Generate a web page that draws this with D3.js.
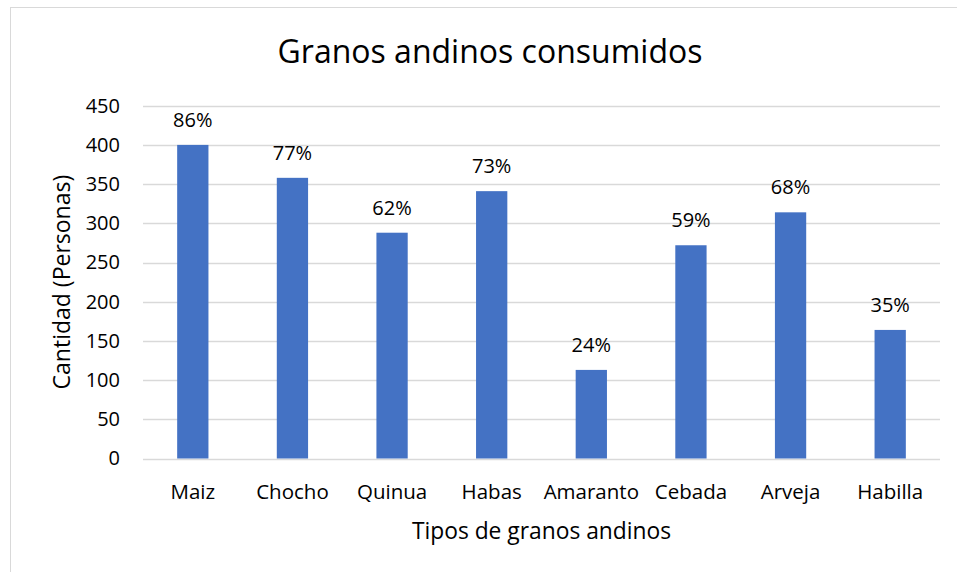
<!DOCTYPE html>
<html>
<head>
<meta charset="utf-8">
<script src="https://cdn.jsdelivr.net/npm/d3@7"></script>
<style>
  html, body { margin: 0; padding: 0; background: #fff; }
  svg { display: block; font-family: "Open Sans", Lato, sans-serif; }
</style>
</head>
<body>
<svg id="chart" width="957" height="572"></svg>
<script>
// Andean grains consumed (number of people) and share of respondents
const categories = ["Maiz", "Chocho", "Quinua", "Habas", "Amaranto", "Cebada", "Arveja", "Habilla"];
const personas = [400, 358, 288, 341, 113, 272, 314, 164];
const porcentajes = ["86%", "77%", "62%", "73%", "24%", "59%", "68%", "35%"];
const yTicks = [0, 50, 100, 150, 200, 250, 300, 350, 400, 450];

const title = "Granos andinos consumidos";
const xTitle = "Tipos de granos andinos";
const yTitle = "Cantidad (Personas)";

const FONT = "'Open Sans', Lato, sans-serif";
const svg = d3.select("#chart");
const W = 957, H = 572;
const plot = { left: 143, right: 940, top: 105.7, bottom: 458.5 };

// chart frame
svg.append("rect")
  .attr("x", 10.5).attr("y", 7.5)
  .attr("width", W).attr("height", H)
  .attr("fill", "#fff").attr("stroke", "#d9d9d9").attr("stroke-width", 1);

const x = d3.scaleBand()
  .domain(categories)
  .range([plot.left, plot.right])
  .paddingInner(0.686)
  .paddingOuter(0.343);

const y = d3.scaleLinear()
  .domain([0, 450])
  .range([plot.bottom, plot.top]);

// horizontal gridlines
svg.append("g")
  .selectAll("line")
  .data(yTicks)
  .join("line")
  .attr("x1", plot.left).attr("x2", plot.right)
  .attr("y1", d => Math.round(y(d)) + 0.5)
  .attr("y2", d => Math.round(y(d)) + 0.5)
  .attr("stroke", "#d9d9d9").attr("stroke-width", 1.5);

// y axis labels
const yAxis = d3.axisLeft(y).tickValues(yTicks).tickSize(0).tickPadding(0);
svg.append("g")
  .attr("transform", `translate(${plot.left - 23},0)`)
  .call(yAxis)
  .call(g => g.select(".domain").remove())
  .call(g => g.selectAll("text")
    .attr("font-size", 20).attr("fill", "#000")
    .attr("font-family", FONT));

// x axis labels
const xAxis = d3.axisBottom(x).tickSize(0).tickPadding(0);
svg.append("g")
  .attr("transform", `translate(0,${plot.bottom + 26})`)
  .call(xAxis)
  .call(g => g.select(".domain").remove())
  .call(g => g.selectAll("text")
    .attr("font-size", 20.5).attr("fill", "#000")
    .attr("font-family", FONT));

const rows = categories.map((c, i) => ({ c, v: personas[i], p: porcentajes[i] }));

// bars
svg.append("g")
  .selectAll("rect")
  .data(rows)
  .join("rect")
  .attr("x", d => x(d.c))
  .attr("width", x.bandwidth())
  .attr("y", d => y(d.v))
  .attr("height", d => y(0) - y(d.v))
  .attr("fill", "#4472c4");

// value labels
svg.append("g")
  .selectAll("text")
  .data(rows)
  .join("text")
  .attr("x", d => x(d.c) + x.bandwidth() / 2)
  .attr("y", d => y(d.v) - 18)
  .attr("text-anchor", "middle")
  .attr("font-size", 20)
  .attr("fill", "#000")
  .text(d => d.p);

// titles
svg.append("text")
  .attr("x", 490).attr("y", 63)
  .attr("text-anchor", "middle")
  .attr("font-size", 32)
  .attr("fill", "#000")
  .text(title);

svg.append("text")
  .attr("x", (plot.left + plot.right) / 2).attr("y", 539)
  .attr("text-anchor", "middle")
  .attr("font-size", 22.8)
  .attr("fill", "#000")
  .text(xTitle);

svg.append("text")
  .attr("transform", `translate(70,${(plot.top + plot.bottom) / 2}) rotate(-90)`)
  .attr("text-anchor", "middle")
  .attr("font-size", 23)
  .attr("fill", "#000")
  .text(yTitle);
</script>
</body>
</html>
